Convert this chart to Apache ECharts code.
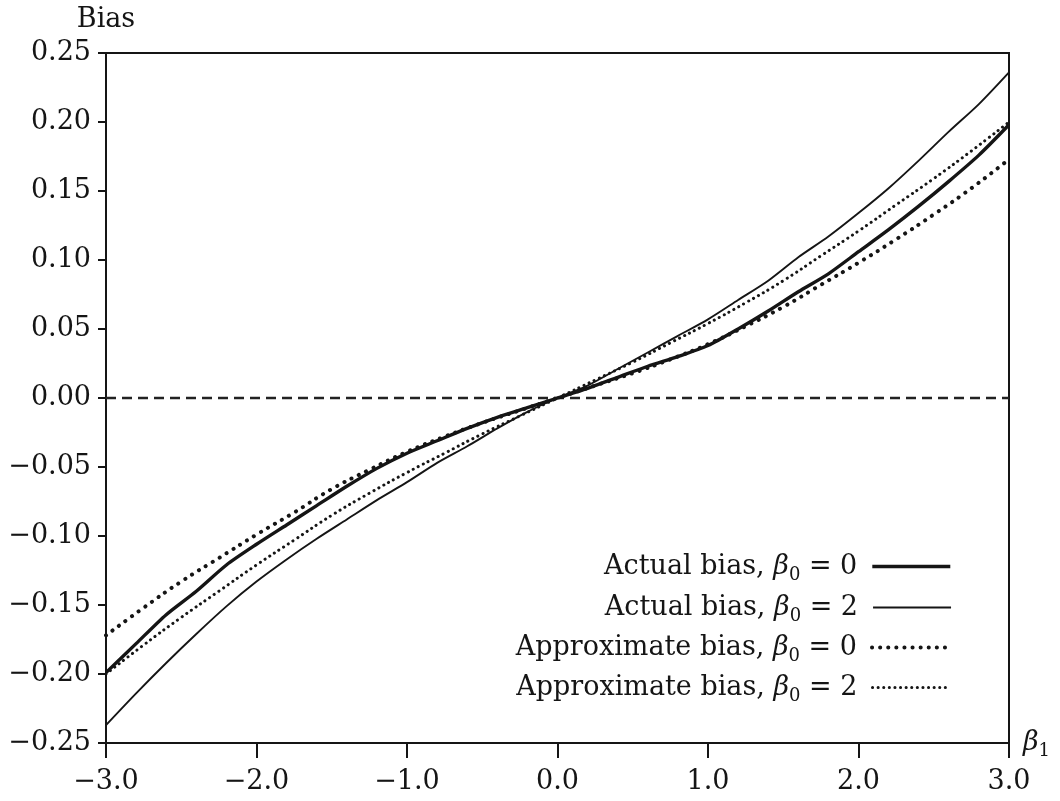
<!DOCTYPE html>
<html>
<head>
<meta charset="utf-8">
<script src="https://cdn.jsdelivr.net/npm/echarts@6/dist/echarts.min.js"></script>
<style>
html,body{margin:0;padding:0;background:#fff;}
#chart{width:1060px;height:801px;}
</style>
</head>
<body>
<div id="chart"></div>
<script>
// beta_1 grid for simulated (actual) bias curves
const xActual = [-3.0,-2.8,-2.6,-2.4,-2.2,-2.0,-1.8,-1.6,-1.4,-1.2,-1.0,-0.8,-0.6,-0.4,-0.2,0.0,0.2,0.4,0.6,0.8,1.0,1.2,1.4,1.6,1.8,2.0,2.2,2.4,2.6,2.8,3.0];
// Actual bias, beta0 = 0 (thick solid)
const actualBias0 = [-0.199,-0.178,-0.157,-0.140,-0.121,-0.106,-0.092,-0.078,-0.064,-0.051,-0.040,-0.031,-0.022,-0.014,-0.007,0.000,0.007,0.015,0.023,0.030,0.038,0.050,0.063,0.077,0.090,0.106,0.122,0.139,0.157,0.176,0.198];
// Actual bias, beta0 = 2 (thin solid)
const actualBias2 = [-0.237,-0.214,-0.192,-0.171,-0.151,-0.133,-0.117,-0.102,-0.088,-0.074,-0.061,-0.047,-0.035,-0.022,-0.010,0.000,0.009,0.021,0.033,0.045,0.057,0.071,0.085,0.102,0.117,0.134,0.152,0.172,0.193,0.213,0.236];
// beta_1 grid for approximate bias curves
const xApprox = [-3.0,-2.75,-2.5,-2.25,-2.0,-1.75,-1.5,-1.25,-1.0,-0.75,-0.5,-0.25,0.0,0.25,0.5,0.75,1.0,1.25,1.5,1.75,2.0,2.25,2.5,2.75,3.0];
// Approximate bias, beta0 = 0 (coarse dots)
const approxBias0 = [-0.172,-0.152,-0.133,-0.116,-0.099,-0.083,-0.066,-0.052,-0.039,-0.028,-0.018,-0.009,0.000,0.009,0.018,0.028,0.039,0.052,0.066,0.082,0.098,0.115,0.133,0.152,0.173];
// Approximate bias, beta0 = 2 (fine dots)
const approxBias2 = [-0.200,-0.179,-0.159,-0.140,-0.121,-0.103,-0.085,-0.069,-0.054,-0.040,-0.026,-0.013,0.000,0.013,0.026,0.040,0.054,0.069,0.085,0.103,0.121,0.140,0.159,0.179,0.200];
const seriesNames = ['Actual bias, β0 = 0','Actual bias, β0 = 2','Approximate bias, β0 = 0','Approximate bias, β0 = 2'];

const FONT = 'DejaVu Serif';
const INK = '#151515';
const FS = 27;
const zip = (xs, ys) => xs.map((x, i) => [x, ys[i]]);
const minus = s => s.replace('-', '\u2212');

const lineStyles = [
  {color: INK, width: 3.4},
  {color: INK, width: 1.9},
  {color: INK, width: 4, type: [0.1, 8], cap: 'round'},
  {color: INK, width: 3, type: [0.1, 5.5], cap: 'round'}
];

const legendRich = {
  t: {fontFamily: FONT, fontSize: FS, color: INK, lineHeight: 36},
  b: {fontFamily: FONT, fontSize: FS, fontStyle: 'italic', color: INK, lineHeight: 36},
  s: {fontFamily: FONT, fontSize: 18, color: INK, lineHeight: 19, verticalAlign: 'bottom'},
  e: {fontFamily: FONT, fontSize: FS, color: INK, lineHeight: 36, padding: [0, 10, 0, 0]}
};
const legendFmt = name => {
  const m = name.match(/^(.*), β0 = (\d)$/);
  return '{t|' + m[1] + ', }{b|β}{s|0}{e| = ' + m[2] + '}';
};
const legendTops = [553, 594, 634, 674];

const chart = echarts.init(document.getElementById('chart'), null, {renderer: 'canvas'});
chart.setOption({
  backgroundColor: '#ffffff',
  animation: false,
  grid: {left: 106, right: 51, top: 53, bottom: 58, show: true, borderColor: INK, borderWidth: 2, backgroundColor: 'transparent'},
  legend: seriesNames.map((n, i) => ({
    data: [n], right: 108, top: legendTops[i], orient: 'vertical', align: 'right',
    itemWidth: 78, itemHeight: 12, padding: 0, itemGap: 0,
    itemStyle: {opacity: 0},
    lineStyle: lineStyles[i],
    formatter: legendFmt, textStyle: {rich: legendRich}, selectedMode: false
  })),
  xAxis: {
    type: 'value', min: -3, max: 3, interval: 1,
    name: '{b|β}{s|1}', nameLocation: 'end', nameGap: 14,
    nameTextStyle: {rich: {
      b: {fontFamily: FONT, fontSize: FS, fontStyle: 'italic', color: INK, lineHeight: 34},
      s: {fontFamily: FONT, fontSize: 18, color: INK, lineHeight: 19, verticalAlign: 'bottom'}
    }},
    axisLine: {show: true, onZero: false, lineStyle: {color: INK, width: 2}},
    axisTick: {show: true, inside: false, length: 15, lineStyle: {color: INK, width: 2}},
    axisLabel: {margin: 25, fontFamily: FONT, fontSize: FS, color: INK, formatter: v => minus(v.toFixed(1))},
    splitLine: {show: false}
  },
  yAxis: {
    type: 'value', min: -0.25, max: 0.25, interval: 0.05,
    name: 'Bias', nameLocation: 'end', nameGap: 20,
    nameTextStyle: {fontFamily: FONT, fontSize: 27, color: INK, align: 'center'},
    axisLine: {show: true, onZero: false, lineStyle: {color: INK, width: 2}},
    axisTick: {show: true, inside: false, length: 8, lineStyle: {color: INK, width: 2}},
    axisLabel: {margin: 15, fontFamily: FONT, fontSize: FS, color: INK, formatter: v => minus(v.toFixed(2))},
    splitLine: {show: false}
  },
  series: [
    {name: 'zero', type: 'line', data: [[-3, 0], [3, 0]], symbol: 'none', silent: true, z: 1,
     lineStyle: {color: '#222', width: 2.5, type: [10, 6]}},
    {name: seriesNames[0], type: 'line', data: zip(xActual, actualBias0), symbol: 'none', smooth: 0.25,
     lineStyle: lineStyles[0], itemStyle: {color: INK}},
    {name: seriesNames[1], type: 'line', data: zip(xActual, actualBias2), symbol: 'none', smooth: 0.25,
     lineStyle: lineStyles[1], itemStyle: {color: INK}},
    {name: seriesNames[2], type: 'line', data: zip(xApprox, approxBias0), symbol: 'none', smooth: true,
     lineStyle: lineStyles[2], itemStyle: {color: INK}},
    {name: seriesNames[3], type: 'line', data: zip(xApprox, approxBias2), symbol: 'none', smooth: true,
     lineStyle: lineStyles[3], itemStyle: {color: INK}}
  ]
});
</script>
</body>
</html>
